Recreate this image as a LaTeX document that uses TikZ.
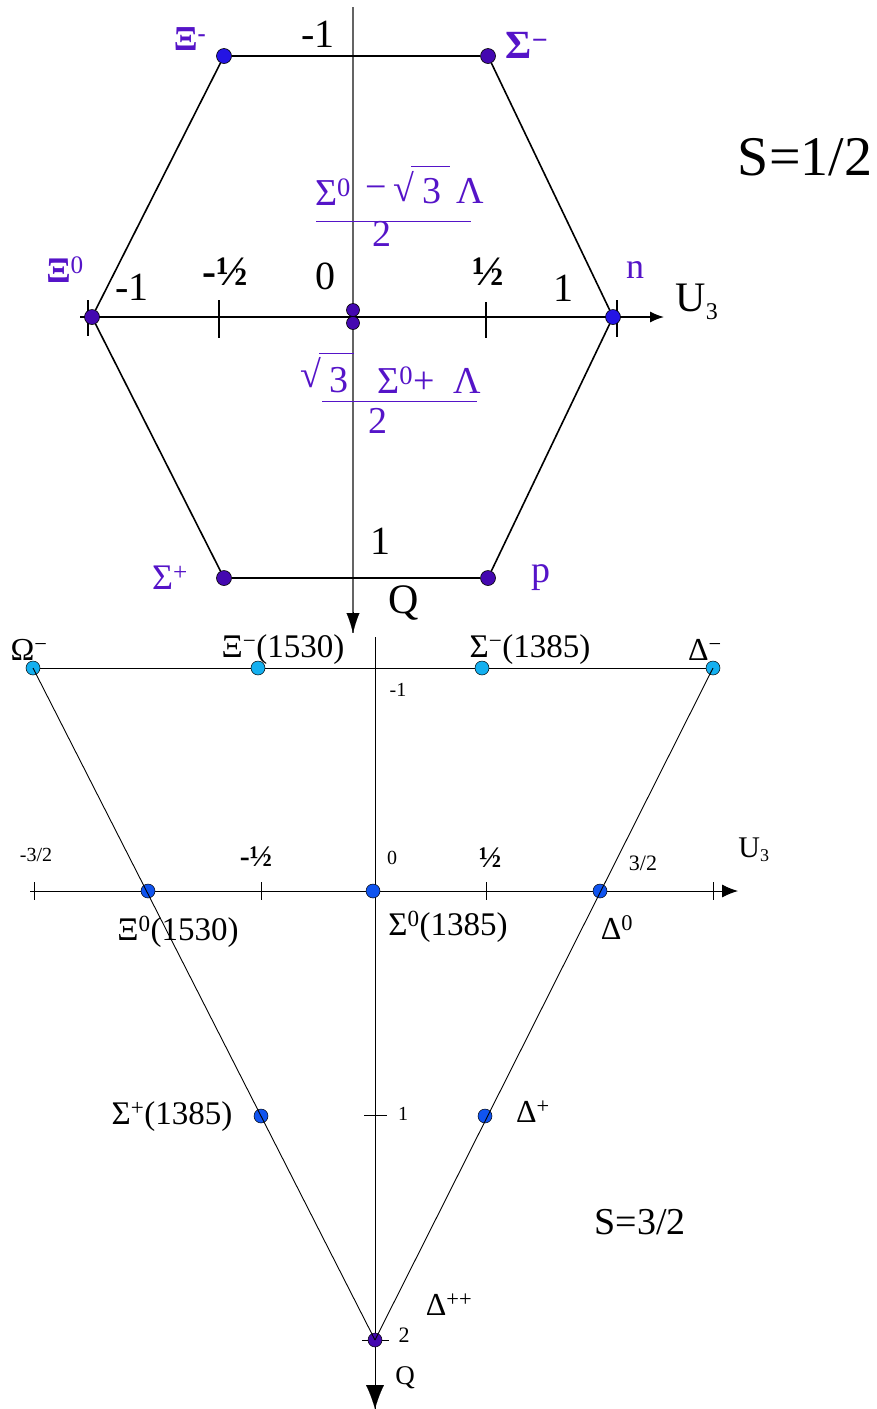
\documentclass[tikz,border=0pt]{standalone}
\usepackage{fontspec}
\setmainfont{Liberation Serif}
\usetikzlibrary{arrows.meta}
\definecolor{purp}{RGB}{85,20,200}
\definecolor{dotpurp}{RGB}{68,8,176}
\definecolor{dotblue}{RGB}{36,20,228}
\definecolor{lblue}{RGB}{20,176,240}
\definecolor{mblue}{RGB}{16,84,240}
\definecolor{axgray}{RGB}{100,100,100}
\newcommand{\fsz}[1]{\fontsize{#1}{#1}\selectfont}
\tikzset{
  bigdot/.style={circle, draw=black, line width=0.6pt, inner sep=0pt, minimum size=15pt},
  smalldot/.style={circle, draw=black, line width=0.5pt, inner sep=0pt, minimum size=14pt},
  lbl/.style={inner sep=0pt},
  plbl/.style={inner sep=0pt, text=purp},
  hexedge/.style={line width=1.6pt},
  triedge/.style={line width=0.9pt},
  tick/.style={line width=1.4pt},
  stick/.style={line width=0.8pt},
  fbar/.style={draw=purp, line width=0.9pt},
}
\begin{document}
\begin{tikzpicture}[x=1pt,y=-1pt]
\useasboundingbox (0,0) rectangle (877,1409);
% ---------------- top hexagon ----------------
\coordinate (vtop) at (353,7);
\coordinate (vbot) at (353,633);
\coordinate (hleft) at (80,317);
\coordinate (hright) at (664,317);
\draw[axgray, line width=1.4pt] (vtop) -- (vbot);
\draw[-{Latex[length=20pt,width=13pt]}, black, line width=0.1pt] (353,612) -- (vbot);
\draw[line width=1.4pt, -{Latex[length=14pt,width=11pt]}] (hleft) -- (hright);
% ticks
\draw[tick] (88,300) -- (88,336);
\draw[tick] (219,300) -- (219,338);
\draw[tick] (486,302) -- (486,338);
\draw[tick] (617,300) -- (617,337);
\draw[line width=2.4pt] (337,56) -- (370,56);
% dots
\node[bigdot, fill=dotblue] (xim) at (224,56) {};
\node[bigdot, fill=dotpurp] (sigm) at (488,56) {};
\node[bigdot, fill=dotblue] (nn) at (613,317) {};
\node[bigdot, fill=dotpurp] (pp) at (488,578) {};
\node[bigdot, fill=dotpurp] (sigp) at (224,578) {};
\node[bigdot, fill=dotpurp] (xi0) at (92,317) {};
\node[bigdot, fill=dotpurp, minimum size=13pt] (ca) at (353,310) {};
\node[bigdot, fill=dotpurp, minimum size=13pt] (cb) at (353,323) {};
\draw[hexedge] (xim) -- (sigm);
\draw[hexedge] (sigm) -- (nn);
\draw[hexedge] (nn) -- (pp);
\draw[hexedge] (pp) -- (sigp);
\draw[hexedge] (sigp) -- (xi0);
\draw[hexedge] (xi0) -- (xim);
% labels
\node[lbl] (lm1t) at (318,34) {\fsz{40}-1};
\node[plbl] (lxim) at (190,39) {\fsz{35}\textbf{Ξ}\textsuperscript{\textbf{-}}};
\node[plbl] (lsigm) at (527,45) {\fsz{40}\textbf{Σ}\textsuperscript{\textbf{−}}};
\node[lbl] (ls12) at (805,157) {\fsz{56}S=1/2};
\node[plbl] (lxi0) at (65,270) {\fsz{36}\textbf{Ξ}\textsuperscript{0}};
\node[lbl] (lm1l) at (132,287) {\fsz{40}-1};
\node[lbl] (lmh) at (225,272) {\fsz{42}\textbf{-½}};
\node[lbl] (l0) at (325,276) {\fsz{40}0};
\node[lbl] (lh) at (488,272) {\fsz{42}\textbf{½}};
\node[lbl] (l1r) at (563,288) {\fsz{40}1};
\node[plbl] (ln) at (635,270) {\fsz{36}n};
\node[lbl] (lu3) at (697,302) {\fsz{42}U\textsubscript{\fsz{24}3}};
\node[plbl] (lsigp) at (170,578) {\fsz{36}Σ\textsuperscript{+}};
\node[plbl] (lp) at (541,578) {\fsz{38}p};
\node[lbl] (l1b) at (380,541) {\fsz{40}1};
\node[lbl] (lq) at (404,603) {\fsz{42}Q};
% formula top
\node[plbl] (fa) at (333,192) {\fsz{38}Σ\textsuperscript{0}};
\node[plbl] (fb) at (376,193) {\fsz{38}−};
\node[plbl] (fc) at (404,187) {\fsz{38}√};
\draw[fbar] (411,166) -- (450,166);
\node[plbl] (fd) at (432,191) {\fsz{38}3};
\node[plbl] (fe) at (470,191) {\fsz{38}Λ};
\draw[fbar] (316,221) -- (471,221);
\node[plbl] (ff) at (382,234) {\fsz{38}2};
% formula bottom
\node[plbl] (ga) at (311,373) {\fsz{38}√};
\draw[fbar] (319,353) -- (354,353);
\node[plbl] (gb) at (339,380) {\fsz{38}3};
\node[plbl] (gc) at (406,380) {\fsz{38}Σ\textsuperscript{0}+};
\node[plbl] (gd) at (467,381) {\fsz{38}Λ};
\draw[fbar] (322,401) -- (477,401);
\node[plbl] (ge) at (378,421) {\fsz{38}2};
% ---------------- bottom triangle ----------------
\coordinate (btop) at (375,637);
\coordinate (bbot) at (375,1409);
\coordinate (bleft) at (30,891);
\coordinate (bright) at (738,891);
\draw[line width=0.9pt] (btop) -- (bbot);
\draw[-{Latex[length=24pt,width=18pt]}, line width=0.1pt] (375,1390) -- (bbot);
\draw[line width=0.9pt, -{Latex[length=16pt,width=13pt]}] (bleft) -- (bright);
\draw[stick] (34,882) -- (34,900);
\draw[stick] (261,882) -- (261,900);
\draw[stick] (486,882) -- (486,900);
\draw[stick] (713,882) -- (713,900);
\draw[stick] (364,1115) -- (387,1115);
\draw[stick] (362,1340) -- (389,1340);
\node[smalldot, fill=lblue] (om) at (33,668) {};
\node[smalldot, fill=lblue] (xs) at (258,668) {};
\node[smalldot, fill=lblue] (ss) at (482,668) {};
\node[smalldot, fill=lblue] (dm) at (713,668) {};
\node[smalldot, fill=mblue] (x0s) at (148,891) {};
\node[smalldot, fill=mblue] (s0s) at (373,891) {};
\node[smalldot, fill=mblue] (d0) at (600,891) {};
\node[smalldot, fill=mblue] (sps) at (261,1116) {};
\node[smalldot, fill=mblue] (dp) at (485,1116) {};
\node[smalldot, fill=dotpurp] (dpp) at (375,1340) {};
\draw[triedge] (om) -- (xs) -- (ss) -- (dm);
\draw[triedge] (om.center) -- (dpp.center);
\draw[triedge] (dm.center) -- (dpp.center);
\node[lbl] (lom) at (29,650) {\fsz{32}Ω\textsuperscript{−}};
\node[lbl] (lxs) at (283,650) {\fsz{33}Ξ\textsuperscript{−}(1530)};
\node[lbl] (lss) at (530,650) {\fsz{33}Σ\textsuperscript{−}(1385)};
\node[lbl] (ldm) at (705,650) {\fsz{32}Δ\textsuperscript{−}};
\node[lbl] (lbm1) at (398,690) {\fsz{20}-1};
\node[lbl] (lb32m) at (36,855) {\fsz{20}-3/2};
\node[lbl] (lbmh) at (256,857) {\fsz{30}\textbf{-½}};
\node[lbl] (lb0) at (392,858) {\fsz{20}0};
\node[lbl] (lbh) at (490,858) {\fsz{30}\textbf{½}};
\node[lbl] (lb32) at (643,863) {\fsz{22}3/2};
\node[lbl] (lbu3) at (754,850) {\fsz{30}U\textsubscript{\fsz{18}3}};
\node[lbl] (lx0s) at (178,932) {\fsz{33}Ξ\textsuperscript{0}(1530)};
\node[lbl] (ls0s) at (448,927) {\fsz{33}Σ\textsuperscript{0}(1385)};
\node[lbl] (ld0) at (617,928) {\fsz{32}Δ\textsuperscript{0}};
\node[lbl] (lsps) at (172,1117) {\fsz{33}Σ\textsuperscript{+}(1385)};
\node[lbl] (ldp) at (533,1112) {\fsz{32}Δ\textsuperscript{+}};
\node[lbl] (lb1) at (403,1114) {\fsz{20}1};
\node[lbl] (ls32) at (640,1222) {\fsz{38}S=3/2};
\node[lbl] (ldpp) at (449,1305) {\fsz{32}Δ\textsuperscript{++}};
\node[lbl] (lb2) at (404,1335) {\fsz{22}2};
\node[lbl] (lbq) at (405,1378) {\fsz{27}Q};
\end{tikzpicture}
\end{document}
